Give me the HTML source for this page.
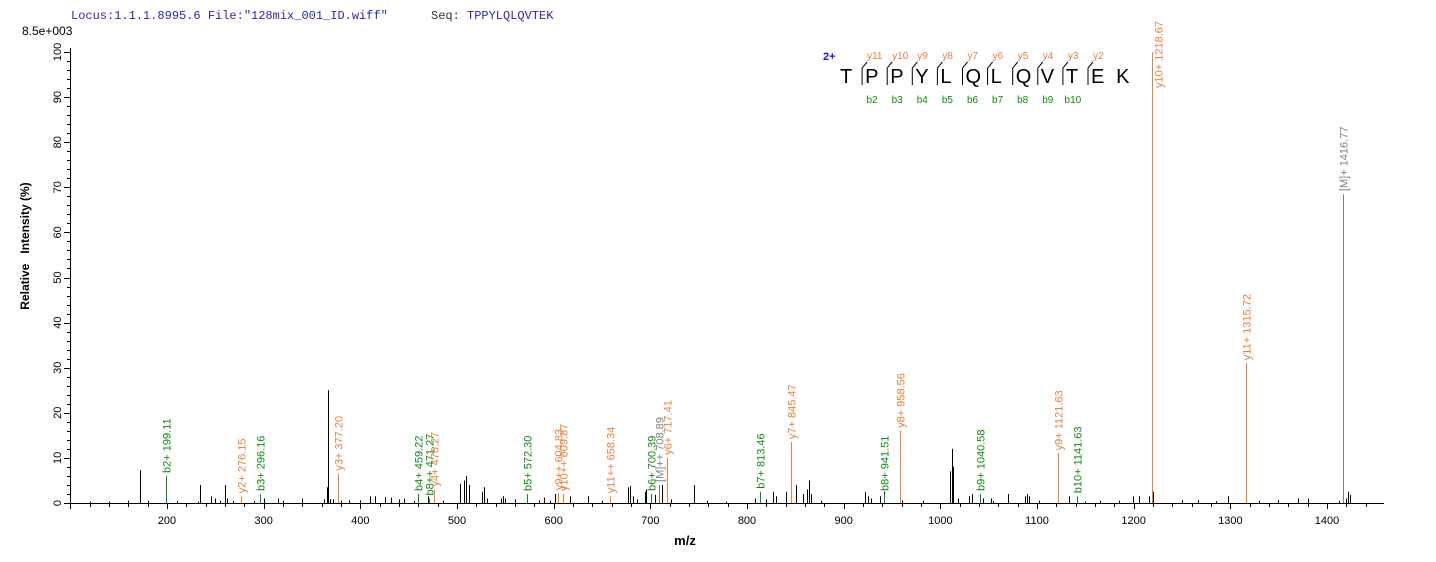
<!DOCTYPE html>
<html><head><meta charset="utf-8"><style>
body{margin:0;background:#fff;}
svg{display:block;font-family:"Liberation Sans",Arial,sans-serif;}
</style></head><body>
<svg id="chart" width="1436" height="562" viewBox="0 0 1436 562" xmlns="http://www.w3.org/2000/svg">
<text x="71" y="19" font-family="Liberation Mono, monospace" font-size="12" fill="#2a2aa8">Locus:1.1.1.8995.6 File:"128mix_001_ID.wiff"</text>
<text x="431" y="19" font-family="Liberation Mono, monospace" font-size="12" fill="#333">Seq:</text>
<text x="467" y="19" font-family="Liberation Mono, monospace" font-size="12" fill="#2a2aa8">TPPYLQLQVTEK</text>
<text x="22" y="35" font-size="12" fill="#000">8.5e+003</text>
<text transform="translate(29,246) rotate(-90)" text-anchor="middle" font-size="12" font-weight="bold" fill="#000" xml:space="preserve">Relative   Intensity (%)</text>
<text x="685" y="545" text-anchor="middle" font-size="13" font-weight="bold" fill="#000">m/z</text>
<g id="axes"></g><g id="peaks"></g><g id="ions"></g><g id="seqpanel"></g>
</svg>
<script>
const blackMz=[120,140,160,172,180,210,232,234,245,250,255,260,262,268,290,300,315,320,340,362,365,367,369,372,380,388,400,410,415,425,432,440,445,455,470,486,503,507,509,512,526,528,531,545,548,550,560,585,590,596,601,617,636,650,677,679,682,686,694,696,705,712,721,745,759,778,808,820,827,830,840,846,851,858,862,864,866,877,922,925,928,938,942,960,982,1010,1012,1013,1018,1030,1033,1044,1052,1054,1070,1088,1090,1092,1102,1133,1150,1165,1185,1199,1205,1216,1219,1220,1250,1267,1285,1298,1330,1349,1370,1380,1412,1420,1422,1424];
const blackPct=[0.3,0.3,0.5,7.3,0.5,0.4,0.3,4,1.5,1,0.5,4,1,0.5,0.4,1,1,0.5,1,0.8,3.5,25,0.8,0.8,0.5,0.6,0.6,1.5,1.5,1.3,1.2,0.8,1,0.5,1.5,0.5,4.3,5,6,4,2.5,3.5,1,1,1.5,1,0.8,0.6,1.2,0.5,2,1.5,1.5,0.5,3.5,3.8,1.5,0.8,2.5,3,1.8,4,0.8,4,0.5,0.3,1,0.8,2.5,1.5,2.5,3,4,2,3,5,2,0.5,2.5,1.5,1,1.5,2.5,0.6,0.5,7,12,8,1,1.5,2,1,1,0.5,2,1.5,2,1.5,0.5,1.5,0.3,0.5,0.5,1.5,1.5,1.5,15,2.5,0.6,0.6,0.4,1.5,0.5,0.6,1,1,0.5,1,2.5,1.8];
const ionLabels=["b2+ 199.11","y2+ 276.15","b3+ 296.16","y3+ 377.20","b4+ 459.22","b8++ 471.27","y4+ 476.27","b5+ 572.30","y9++ 604.83","y10++ 609.87","y11++ 658.34","b6+ 700.39","[M]++ 708.89","y6+ 717.41","b7+ 813.46","y7+ 845.47","b8+ 941.51","y8+ 958.56","b9+ 1040.58","y9+ 1121.63","b10+ 1141.63","y10+ 1218.67","y11+ 1315.72","[M]+ 1416.77"];
const ionMz=[199.11,276.15,296.16,377.20,459.22,471.27,476.27,572.30,604.83,609.87,658.34,700.39,708.89,717.41,813.46,845.47,941.51,958.56,1040.58,1121.63,1141.63,1218.67,1315.72,1416.77];
const ionPct=[6,1.5,2,6.5,2,1,3,2,2.2,2,1.5,2,4,10,2.5,13.5,2,16,2,11,1.5,100,31,68.5];
const ionType=["b","y","b","y","b","b","y","b","y","y","y","b","m","y","b","y","b","y","b","y","b","y","y","m"];
const xTicks=[200,300,400,500,600,700,800,900,1000,1100,1200,1300,1400];
const yTicks=[0,10,20,30,40,50,60,70,80,90,100];
const seqLetters=["T","P","P","Y","L","Q","L","Q","V","T","E","K"];
const yIonNames=["y11","y10","y9","y8","y7","y6","y5","y4","y3","y2"];
const bIonNames=["b2","b3","b4","b5","b6","b7","b8","b9","b10"];

const NS="http://www.w3.org/2000/svg";
const X=mz=>167+(mz-200)*0.96667;
const Y=p=>503-p*4.51;
const col={b:"#118811",y:"#e8803e",m:"#808080"};
function mk(tag,attrs,parent){const e=document.createElementNS(NS,tag);for(const k in attrs)e.setAttribute(k,attrs[k]);parent.appendChild(e);return e;}
const axes=document.getElementById('axes'),peaks=document.getElementById('peaks'),ions=document.getElementById('ions'),sp=document.getElementById('seqpanel');

let a=mk('line',{x1:70,y1:503.5,x2:1384,y2:503.5,stroke:"#000","stroke-width":1},axes);


a=mk('line',{x1:70.5,y1:48,x2:70.5,y2:504,stroke:"#000","stroke-width":1},axes);


for(let m=100;m<=1440;m+=20){const x=Math.round(X(m))+0.5;const t=mk('line',{x1:x,y1:503,x2:x,y2:m%100===0?509:507,stroke:"#000"},axes);

}
xTicks.forEach(v=>{const t=mk('text',{x:X(v),y:524,"text-anchor":"middle","font-size":11},axes);t.textContent=v;

});
for(let p=0;p<=100;p+=2){const y=Math.round(Y(p))+0.5;const t=mk('line',{x1:p%10===0?64:67,y1:y,x2:70,y2:y,stroke:"#000"},axes);

}
yTicks.forEach(v=>{const t=mk('text',{transform:`translate(61,${Y(v)}) rotate(-90)`,"text-anchor":"middle","font-size":11},axes);t.textContent=v;

});

blackMz.forEach((m,i)=>{const x=Math.round(X(m))+0.5;const l=mk('line',{x1:x,y1:503,x2:x,y2:Y(blackPct[i]),stroke:"#000","stroke-width":1},peaks);

});

ionMz.forEach((m,i)=>{const x=Math.round(X(m))+0.5,yt=Y(ionPct[i]),c=col[ionType[i]];
const l=mk('line',{x1:x,y1:503,x2:x,y2:yt,stroke:c,"stroke-width":1},ions);


let tx=x+4,ty=yt-3;
if(yt<60){tx=x+10;ty=yt+36;}
const t=mk('text',{transform:`translate(${tx},${ty}) rotate(-90)`,"font-size":11,fill:c},ions);t.textContent=ionLabels[i];

});

let t=mk('text',{x:823,y:60,"font-size":11,"font-weight":"bold",fill:"#1a1acc"},sp);t.textContent="2+";


const s0=840,ds=25.1;
seqLetters.forEach((L,i)=>{const tt=mk('text',{x:s0+i*ds,y:83,"font-size":20,fill:"#000"},sp);tt.textContent=L;

});
for(let i=1;i<seqLetters.length-1;i++){const x=s0+i*ds-3;
const p=mk('path',{d:`M${x},85 L${x},68 L${x+5},62`,stroke:"#000",fill:"none","stroke-width":1},sp);

}
yIonNames.forEach((n,i)=>{const tt=mk('text',{x:s0+(i+1)*ds+2,y:59,"font-size":10,fill:"#e8803e"},sp);tt.textContent=n;

});
bIonNames.forEach((n,i)=>{const tt=mk('text',{x:s0+(i+1)*ds+7,y:103,"font-size":10,fill:"#118811","text-anchor":"middle"},sp);tt.textContent=n;

});
</script>
</body></html>
